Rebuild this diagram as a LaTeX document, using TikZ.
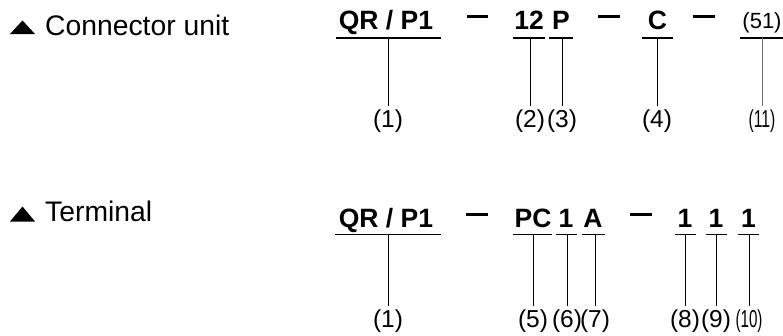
\documentclass[tikz,border=0pt]{standalone}
\usepackage{fontspec}
\setmainfont{Liberation Sans}
\usepackage{graphicx}
\begin{document}
\begin{tikzpicture}[x=1pt,y=-1pt,
  code/.style={font=\bfseries\fontsize{26.5}{30}\selectfont, inner sep=0pt, anchor=base},
  small code/.style={font=\fontsize{22}{26}\selectfont, inner sep=0pt, anchor=base},
  head/.style={font=\fontsize{28.3}{30}\selectfont, inner sep=0pt, anchor=base west},
  num/.style={font=\fontsize{24.5}{28}\selectfont, inner sep=0pt, anchor=north},
  uline/.style={line width=1.9pt},
  lead/.style={line width=0.8pt, shorten >=4.5pt},
  dashline/.style={line width=2.1pt},
  tri/.style={fill=black}]
\useasboundingbox (0,0) rectangle (783,335);

% ---------- Top row: Connector unit ----------
\fill[tri] (22.5,20.5) -- (35,34) -- (10,34) -- cycle;
\node[head] (h1) at (45,35.5) {Connector unit};

\node[code] (a1) at (386,29) {QR / P1};
\node[code] (a2) at (529,29) {12};
\node[code] (a3) at (561,29) {P};
\node[code] (a4) at (657.5,29) {C};
\node[small code] (a5) at (762,28) {(51)};

\draw[dashline] (467,16.5) -- (488,16.5);
\draw[dashline] (598,16.5) -- (620,16.5);
\draw[dashline] (693,16.5) -- (715,16.5);

\draw[uline] (336,37.7) -- (441,37.7);
\draw[uline] (513,37.7) -- (545,37.7);
\draw[uline] (549,37.7) -- (573,37.7);
\draw[uline] (642,37.7) -- (673,37.7);
\draw[uline] (740,37.7) -- (783,37.7);

\coordinate (ua1) at (388,37.7);
\coordinate (ua2) at (530,37.7);
\coordinate (ua3) at (562,37.7);
\coordinate (ua4) at (657,37.7);
\coordinate (ua5) at (762,37.7);

\node[num] (n1) at (388,110) {(1)};
\node[num] (n2) at (530,110) {(2)};
\node[num] (n3) at (562,110) {(3)};
\node[num] (n4) at (657,110) {(4)};
\node[num] (n11) at (762,110) {\scalebox{0.64}[1]{(11)}};

\draw[lead] (ua1) -- (n1.north);
\draw[lead] (ua2) -- (n2.north);
\draw[lead] (ua3) -- (n3.north);
\draw[lead] (ua4) -- (n4.north);
\draw[lead, draw=black!55] (ua5) -- (n11.north);

% ---------- Bottom row: Terminal ----------
\fill[tri] (22.5,206.5) -- (35,221.5) -- (10,221.5) -- cycle;
\node[head] (h2) at (45,221.5) {Terminal};

\node[code] (b1) at (386,227) {QR / P1};
\node[code] (b2) at (533,227) {PC};
\node[code] (b3) at (566,227) {1};
\node[code] (b4) at (593,227) {A};
\node[code] (b5) at (685,227) {1};
\node[code] (b6) at (716,227) {1};
\node[code] (b7) at (748.5,227) {1};

\draw[dashline] (466,214.5) -- (488,214.5);
\draw[dashline] (630,214.5) -- (652,214.5);

\draw[uline] (335,234.5) -- (441,234.5);
\draw[uline] (513,234.5) -- (552,234.5);
\draw[uline] (556,234.5) -- (577,234.5);
\draw[uline] (582,234.5) -- (605,234.5);
\draw[uline] (675,234.5) -- (696,234.5);
\draw[uline] (706,234.5) -- (727,234.5);
\draw[uline] (738,234.5) -- (759,234.5);

\coordinate (ub1) at (388,234.5);
\coordinate (ub2) at (533,234.5);
\coordinate (ub3) at (567,234.5);
\coordinate (ub4) at (595,234.5);
\coordinate (ub5) at (685,234.5);
\coordinate (ub6) at (716,234.5);
\coordinate (ub7) at (749,234.5);

\node[num] (m1) at (388,310) {(1)};
\node[num] (m5) at (533,310) {(5)};
\node[num] (m6) at (567,310) {(6)};
\node[num] (m7) at (595,310) {(7)};
\node[num] (m8) at (685,310) {(8)};
\node[num] (m9) at (716,310) {(9)};
\node[num] (m10) at (749,310) {\scalebox{0.62}[1]{(10)}};

\draw[lead] (ub1) -- (m1.north);
\draw[lead] (ub2) -- (m5.north);
\draw[lead] (ub3) -- (m6.north);
\draw[lead] (ub4) -- (m7.north);
\draw[lead] (ub5) -- (m8.north);
\draw[lead] (ub6) -- (m9.north);
\draw[lead] (ub7) -- (m10.north);
\end{tikzpicture}
\end{document}
